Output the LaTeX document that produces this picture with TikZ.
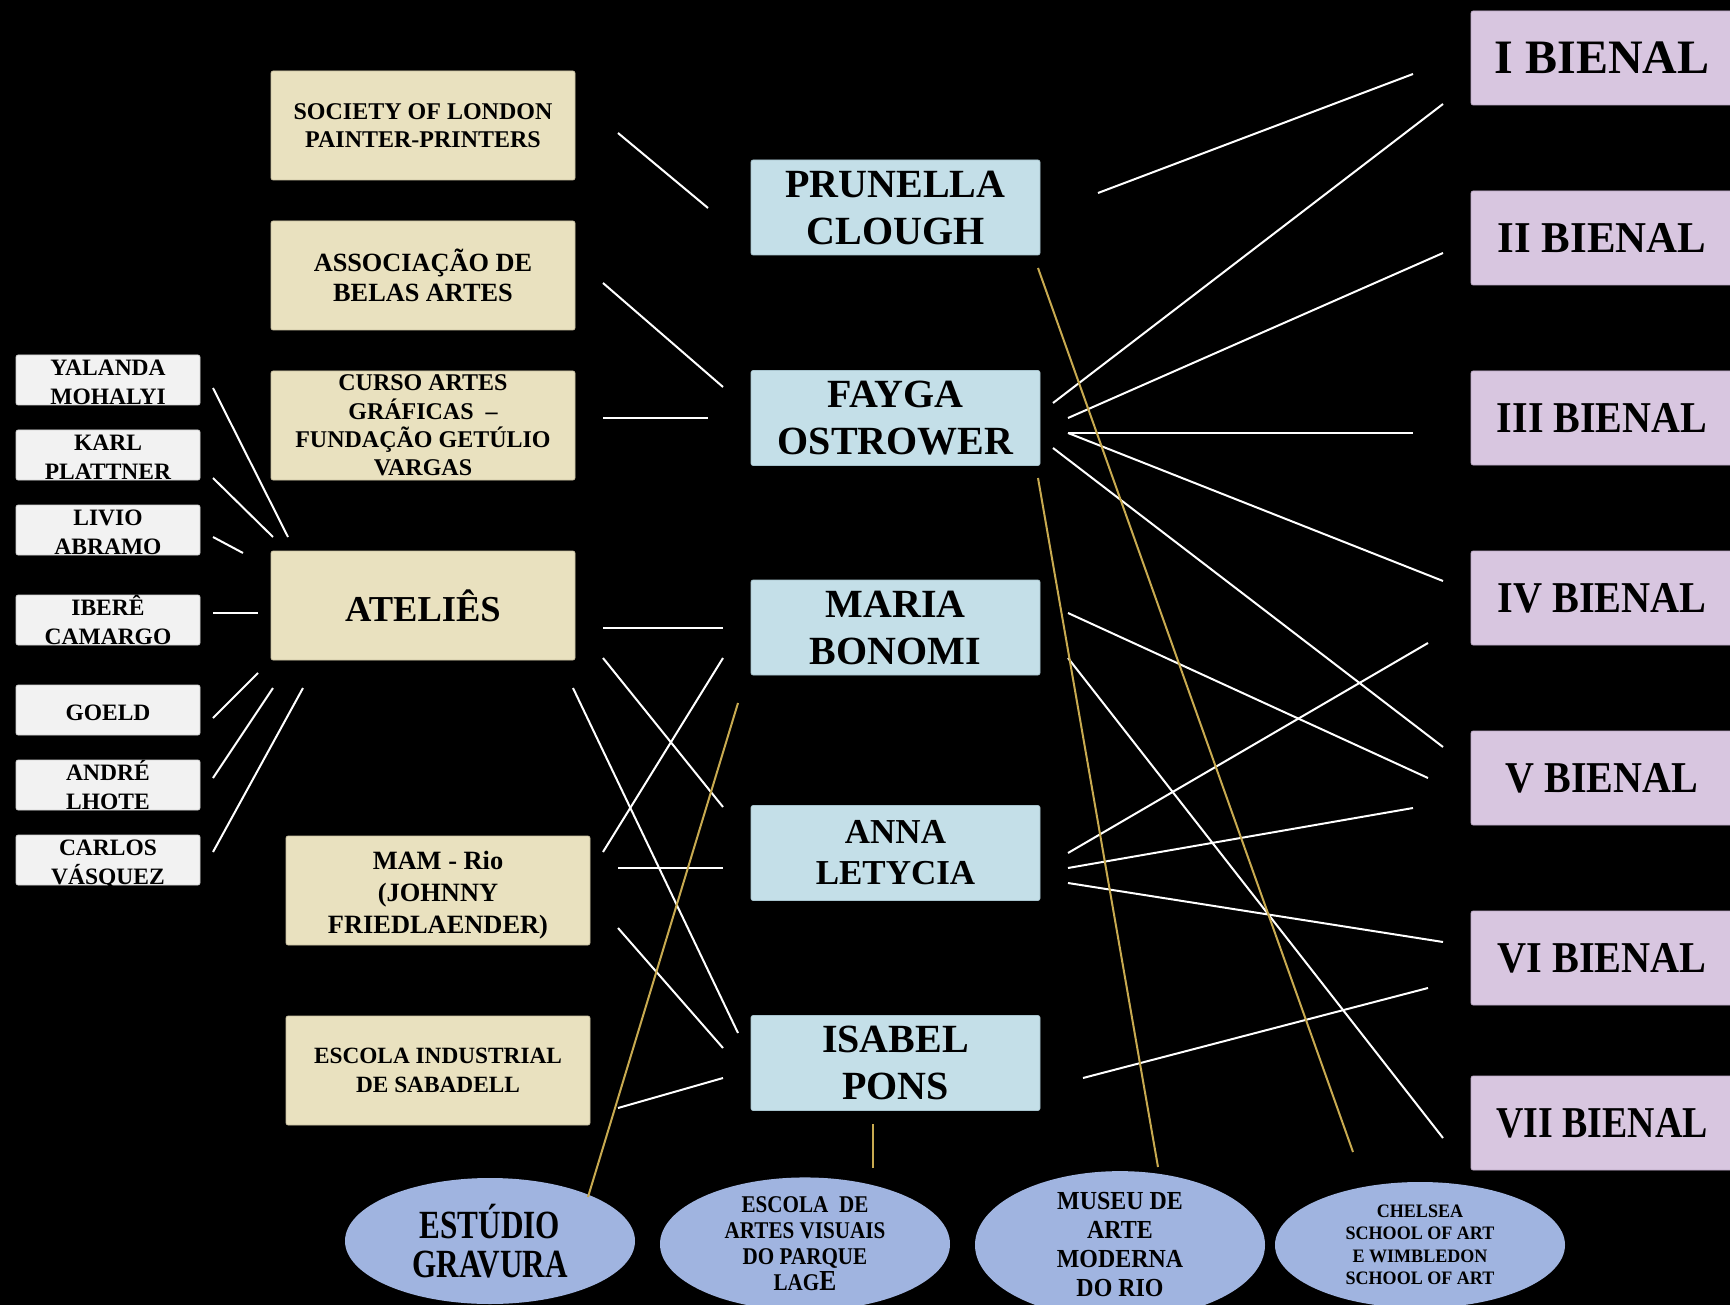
\documentclass[tikz,border=0pt]{standalone}
\usepackage{fontspec}
\usepackage{graphicx}
\setmainfont{Liberation Serif}
\newfontfamily\condA[FakeStretch=0.78]{Liberation Serif}
\newfontfamily\condB[FakeStretch=0.88]{Liberation Serif}
\newfontfamily\condC[FakeStretch=0.92]{Liberation Serif}
\newfontfamily\condD[FakeStretch=0.95]{Liberation Serif}
\usetikzlibrary{shapes.geometric}
\definecolor{wfill}{HTML}{F2F2F2}
\definecolor{wedge}{HTML}{D0D0D0}
\definecolor{yfill}{HTML}{E9E1BF}
\definecolor{yedge}{HTML}{C9C0A0}
\definecolor{bfill}{HTML}{C4DFE8}
\definecolor{bedge}{HTML}{A8C4CE}
\definecolor{pfill}{HTML}{D8C6E0}
\definecolor{pedge}{HTML}{BBA8C4}
\definecolor{efill}{HTML}{A0B4E0}
\definecolor{gold}{HTML}{C8AA50}
\newcommand\wtop{\rule{0pt}{26.6pt}}
\newcommand\wbot{\rule[-6pt]{0pt}{6pt}}
\newcommand\mtop{\rule{0pt}{28.5pt}}
\newcommand\mbot{\rule[-6pt]{0pt}{6pt}}
\begin{document}
\begin{tikzpicture}[x=1pt,y=-1pt,
  wtxt/.style={align=center, inner sep=0pt, yshift=0pt,
    font=\bfseries\fontsize{23.5}{29}\selectfont},
  wbox/.style={rectangle, rounded corners=2pt, fill=wfill, draw=wedge, line width=0.6pt,
    minimum width=184pt, minimum height=50pt, inner sep=0pt,
    label={[wtxt]center:\wtop #1\wbot}},
  ybox/.style={rectangle, rounded corners=2pt, fill=yfill, draw=yedge, line width=0.6pt,
    minimum width=304pt, minimum height=109pt, inner sep=0pt, align=center},
  mtxt/.style={align=center, inner sep=0pt,
    font=\bfseries\fontsize{26.4}{32}\selectfont},
  bbox/.style={rectangle, rounded corners=2pt, fill=bfill, draw=bedge, line width=0.6pt,
    minimum width=289pt, minimum height=95pt, inner sep=0pt, align=center,
    font=\bfseries\fontsize{40}{47}\selectfont},
  pbox/.style={rectangle, rounded corners=2pt, fill=pfill, draw=pedge, line width=0.6pt,
    minimum width=262pt, minimum height=94pt, inner sep=0pt, align=center,
    font=\bfseries\fontsize{44}{48}\selectfont},
  ell/.style={ellipse, fill=efill, minimum width=290pt, minimum height=126pt, inner sep=0pt, align=center},
  wline/.style={draw=white, line width=2pt},
  yline/.style={draw=gold, line width=2pt}
]
\useasboundingbox (0,0) rectangle (1730,1305);
\fill[black] (0,0) rectangle (1730,1305);

% left white boxes
\node[wbox={YALANDA\\MOHALYI}] (yal) at (108,380) {};
\node[wbox={KARL\\PLATTNER}] (kar) at (108,455) {};
\node[wbox={LIVIO\\ABRAMO}] (liv) at (108,530) {};
\node[wbox={IBERÊ\\CAMARGO}] (ibe) at (108,620) {};
\node[wbox={GOELD}] (goe) at (108,710) {};
\node[wbox={ANDRÉ\\LHOTE}] (and) at (108,785) {};
\node[wbox={CARLOS\\VÁSQUEZ}] (car) at (108,860) {};

% beige boxes
\node[ybox, font=\bfseries\fontsize{24}{28.5}\selectfont] (soc) at (423,125.5) {SOCIETY OF LONDON\\PAINTER-PRINTERS};
\node[ybox, font=\bfseries\fontsize{26.3}{30}\selectfont] (ass) at (423,275.5) {ASSOCIAÇÃO DE\\BELAS ARTES};
\node[ybox, font=\bfseries\fontsize{24}{28.3}\selectfont] (cur) at (423,425.5) {CURSO ARTES\\GRÁFICAS~ –\\FUNDAÇÃO GETÚLIO\\VARGAS};
\node[ybox, font=\bfseries\fontsize{36.5}{40}\selectfont] (ate) at (423,605.5) {ATELIÊS};
\node[ybox, label={[mtxt]center:\mtop MAM - Rio\\(JOHNNY\\FRIEDLAENDER)\mbot}] (mam) at (438,890.5) {};
\node[ybox, font=\bfseries\fontsize{23.3}{29}\selectfont] (esi) at (438,1070.5) {ESCOLA INDUSTRIAL\\DE SABADELL};

% blue boxes
\node[bbox] (pru) at (895.5,207.5) {PRUNELLA\\CLOUGH};
\node[bbox] (fay) at (895.5,418) {FAYGA\\OSTROWER};
\node[bbox] (mar) at (895.5,627.5) {MARIA\\BONOMI};
\node[bbox, font=\bfseries\fontsize{35}{41}\selectfont] (ann) at (895.5,853) {ANNA\\LETYCIA};
\node[bbox] (isa) at (895.5,1063) {ISABEL\\PONS};

% bienal boxes
\node[pbox, font=\bfseries\fontsize{48}{52}\selectfont] (b1) at (1602,58) {I BIENAL};
\node[pbox] (b2) at (1602,238) {\scalebox{0.975}[1]{II BIENAL}};
\node[pbox] (b3) at (1602,418) {\scalebox{0.91}[1]{III BIENAL}};
\node[pbox] (b4) at (1602,598) {\scalebox{0.915}[1]{IV BIENAL}};
\node[pbox] (b5) at (1602,778) {\scalebox{0.91}[1]{V BIENAL}};
\node[pbox] (b6) at (1602,958) {\scalebox{0.915}[1]{VI BIENAL}};
\node[pbox] (b7) at (1602,1123) {\scalebox{0.86}[1]{VII BIENAL}};

% ellipses
\node[ell, font=\condA\bfseries\fontsize{40}{39}\selectfont] (est) at (490,1241) {ESTÚDIO\\GRAVURA};
\node[ell, font=\condB\bfseries\fontsize{24}{26}\selectfont] (eav) at (805,1244) {ESCOLA~ DE\\ARTES VISUAIS\\DO PARQUE\\LAG{\fontsize{29}{26}\selectfont E}};
\node[ell, font=\condC\bfseries\fontsize{26}{29}\selectfont] (mus) at (1120,1245) {MUSEU DE\\ARTE\\MODERNA\\DO RIO};
\node[ell, font=\condD\bfseries\fontsize{19}{22.5}\selectfont] (che) at (1420,1245) {CHELSEA\\SCHOOL OF ART\\E WIMBLEDON\\SCHOOL OF ART};

% connector end points
\coordinate (yal-o) at (213,388);  \coordinate (ate-i1) at (288,537);
\coordinate (kar-o) at (213,478);  \coordinate (ate-i2) at (273,537);
\coordinate (liv-o) at (213,537);  \coordinate (ate-i3) at (243,553);
\coordinate (ibe-o) at (213,613);  \coordinate (ate-i4) at (258,613);
\coordinate (goe-o) at (213,718);  \coordinate (ate-i5) at (258,673);
\coordinate (and-o) at (213,778);  \coordinate (ate-i6) at (273,688);
\coordinate (car-o) at (213,852);  \coordinate (ate-i7) at (303,688);

\coordinate (soc-o) at (618,133);  \coordinate (pru-i1) at (708,208);
\coordinate (ass-o) at (603,283);  \coordinate (fay-i1) at (723,387);
\coordinate (cur-o) at (603,418);  \coordinate (fay-i2) at (708,418);
\coordinate (ate-o1) at (603,628); \coordinate (mar-i1) at (723,628);
\coordinate (ate-o2) at (603,658); \coordinate (ann-i1) at (723,807);
\coordinate (ate-o3) at (573,688); \coordinate (isa-i1) at (738,1033);
\coordinate (mam-o1) at (603,852); \coordinate (mar-i2) at (723,658);
\coordinate (mam-o2) at (618,868); \coordinate (ann-i2) at (723,868);
\coordinate (mam-o3) at (618,928); \coordinate (isa-i2) at (723,1048);
\coordinate (esi-o) at (618,1108); \coordinate (isa-i3) at (723,1078);

\coordinate (pru-o) at (1098,193);   \coordinate (b1-i1) at (1413,74);
\coordinate (fay-o1) at (1053,403);  \coordinate (b1-i2) at (1443,104);
\coordinate (fay-o2) at (1068,418);  \coordinate (b2-i) at (1443,253);
\coordinate (fay-o3) at (1068,433);  \coordinate (b3-i) at (1413,433);
                                     \coordinate (b4-i1) at (1443,581);
\coordinate (fay-o4) at (1053,448);  \coordinate (b5-i1) at (1443,747);
\coordinate (mar-o1) at (1068,613);  \coordinate (b5-i2) at (1428,778);
\coordinate (mar-o2) at (1068,658);  \coordinate (b7-i) at (1443,1138);
\coordinate (ann-o1) at (1068,853);  \coordinate (b4-i2) at (1428,643);
\coordinate (ann-o2) at (1068,868);  \coordinate (b5-i3) at (1413,808);
\coordinate (ann-o3) at (1068,883);  \coordinate (b6-i1) at (1443,942);
\coordinate (isa-o) at (1083,1078);  \coordinate (b6-i2) at (1428,988);

\coordinate (est-o) at (588,1197);  \coordinate (mar-y) at (738,703);
\coordinate (eav-o) at (873,1168);  \coordinate (isa-y) at (873,1124);
\coordinate (mus-o) at (1158,1167); \coordinate (fay-y) at (1038,478);
\coordinate (che-o) at (1353,1152); \coordinate (pru-y) at (1038,268);

% white connectors
\draw[wline] (yal-o) -- (ate-i1);
\draw[wline] (kar-o) -- (ate-i2);
\draw[wline] (liv-o) -- (ate-i3);
\draw[wline] (ibe-o) -- (ate-i4);
\draw[wline] (goe-o) -- (ate-i5);
\draw[wline] (and-o) -- (ate-i6);
\draw[wline] (car-o) -- (ate-i7);

\draw[wline] (soc-o) -- (pru-i1);
\draw[wline] (ass-o) -- (fay-i1);
\draw[wline] (cur-o) -- (fay-i2);
\draw[wline] (ate-o1) -- (mar-i1);
\draw[wline] (ate-o2) -- (ann-i1);
\draw[wline] (ate-o3) -- (isa-i1);
\draw[wline] (mam-o1) -- (mar-i2);
\draw[wline] (mam-o2) -- (ann-i2);
\draw[wline] (mam-o3) -- (isa-i2);
\draw[wline] (esi-o) -- (isa-i3);

\draw[wline] (pru-o) -- (b1-i1);
\draw[wline] (fay-o1) -- (b1-i2);
\draw[wline] (fay-o2) -- (b2-i);
\draw[wline] (fay-o3) -- (b3-i);
\draw[wline] (fay-o3) -- (b4-i1);
\draw[wline] (fay-o4) -- (b5-i1);
\draw[wline] (mar-o1) -- (b5-i2);
\draw[wline] (mar-o2) -- (b7-i);
\draw[wline] (ann-o1) -- (b4-i2);
\draw[wline] (ann-o2) -- (b5-i3);
\draw[wline] (ann-o3) -- (b6-i1);
\draw[wline] (isa-o) -- (b6-i2);

% gold connectors
\draw[yline] (est-o) -- (mar-y);
\draw[yline] (eav-o) -- (isa-y);
\draw[yline] (mus-o) -- (fay-y);
\draw[yline] (che-o) -- (pru-y);
\end{tikzpicture}
\end{document}
